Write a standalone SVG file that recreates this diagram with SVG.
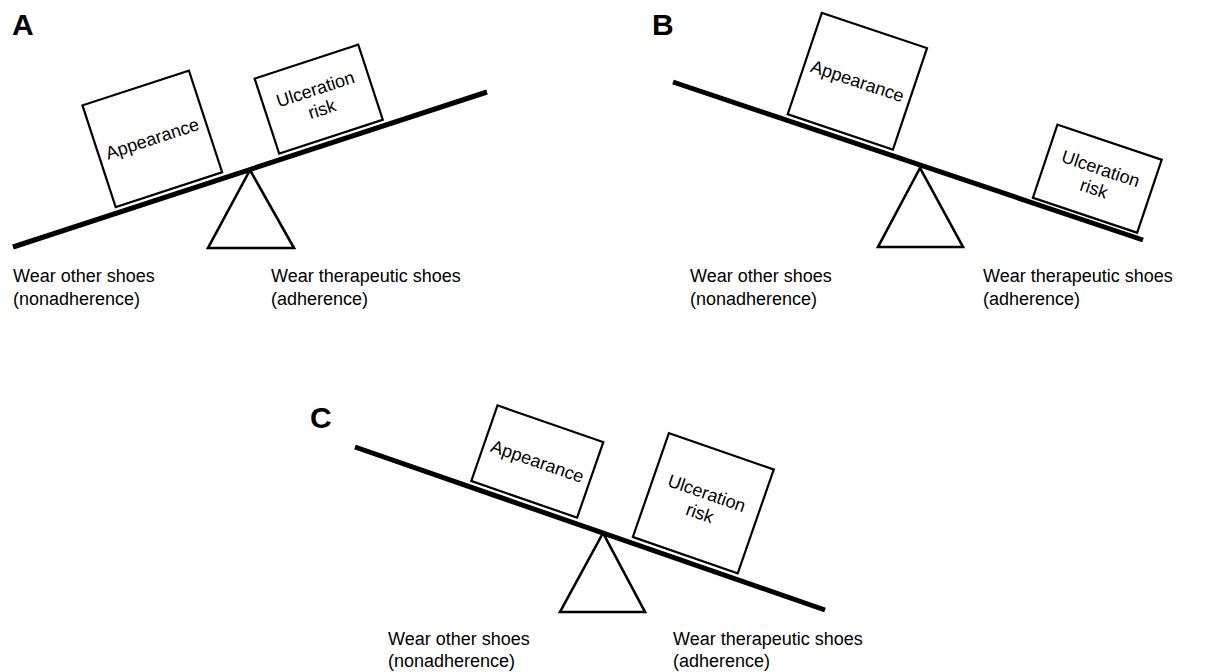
<svg xmlns="http://www.w3.org/2000/svg" width="1209" height="672" viewBox="0 0 1209 672">
<style>
.beam{stroke:#000;stroke-width:5;fill:none}
.box{fill:#fff;stroke:#000;stroke-width:2.2}
.ful{fill:#fff;stroke:#000;stroke-width:2.6;stroke-linejoin:miter}
.t{font-family:"Liberation Sans",Arial,sans-serif;font-size:18px;fill:#000}
.bt{font-family:"Liberation Sans",Arial,sans-serif;font-size:18px;fill:#000;text-anchor:middle}
.lt{font-family:"Liberation Sans",Arial,sans-serif;font-size:30px;font-weight:bold;fill:#000}
</style>
<rect width="1209" height="672" fill="#fff"/>

<g id="panel-a">
  <text class="lt" x="12" y="35">A</text>
  <polygon id="a-fulcrum" class="ful" points="250,170 208,248 294,248"/>
  <line class="beam" x1="13" y1="247" x2="487" y2="92"/>
  <g id="a-appearance" transform="translate(13,247) rotate(-18.1)">
    <rect class="box" x="110" y="-113" width="112" height="107"/>
    <text class="bt" x="166" y="-53.5">Appearance</text>
  </g>
  <g id="a-ulceration" transform="translate(13,247) rotate(-18.1)">
    <rect class="box" x="282" y="-85" width="109" height="79"/>
    <text class="bt" x="336.5" y="-50">Ulceration</text>
    <text class="bt" x="336.5" y="-29">risk</text>
  </g>
  <g id="a-labels">
    <text class="t" x="13" y="282">Wear other shoes</text>
    <text class="t" x="13" y="305">(nonadherence)</text>
    <text class="t" x="271" y="282">Wear therapeutic shoes</text>
    <text class="t" x="271" y="305">(adherence)</text>
  </g>
</g>

<g id="panel-b">
  <text class="lt" x="652" y="35">B</text>
  <polygon id="b-fulcrum" class="ful" points="920,168 878,247 963,247"/>
  <line class="beam" x1="673" y1="82" x2="1143" y2="240"/>
  <g id="b-appearance" transform="translate(673,82) rotate(18.58)">
    <rect class="box" x="119" y="-113" width="111" height="107"/>
    <text class="bt" x="174.5" y="-53.5">Appearance</text>
  </g>
  <g id="b-ulceration" transform="translate(673,82) rotate(18.58)">
    <rect class="box" x="378" y="-82" width="110" height="77"/>
    <text class="bt" x="433" y="-48">Ulceration</text>
    <text class="bt" x="433" y="-27">risk</text>
  </g>
  <g id="b-labels">
    <text class="t" x="690" y="282">Wear other shoes</text>
    <text class="t" x="690" y="305">(nonadherence)</text>
    <text class="t" x="983" y="282">Wear therapeutic shoes</text>
    <text class="t" x="983" y="305">(adherence)</text>
  </g>
</g>

<g id="panel-c">
  <text class="lt" x="310" y="428">C</text>
  <polygon id="c-fulcrum" class="ful" points="603,533 560,612 645,612"/>
  <line class="beam" x1="355" y1="447" x2="825" y2="610"/>
  <g id="c-appearance" transform="translate(355,447) rotate(19.13)">
    <rect class="box" x="121" y="-86" width="112" height="80"/>
    <text class="bt" x="177" y="-40">Appearance</text>
  </g>
  <g id="c-ulceration" transform="translate(355,447) rotate(19.13)">
    <rect class="box" x="292" y="-116" width="111" height="110"/>
    <text class="bt" x="347.5" y="-65.5">Ulceration</text>
    <text class="bt" x="347.5" y="-44.5">risk</text>
  </g>
  <g id="c-labels">
    <text class="t" x="388" y="645">Wear other shoes</text>
    <text class="t" x="388" y="667">(nonadherence)</text>
    <text class="t" x="673" y="645">Wear therapeutic shoes</text>
    <text class="t" x="673" y="667">(adherence)</text>
  </g>
</g>
</svg>
